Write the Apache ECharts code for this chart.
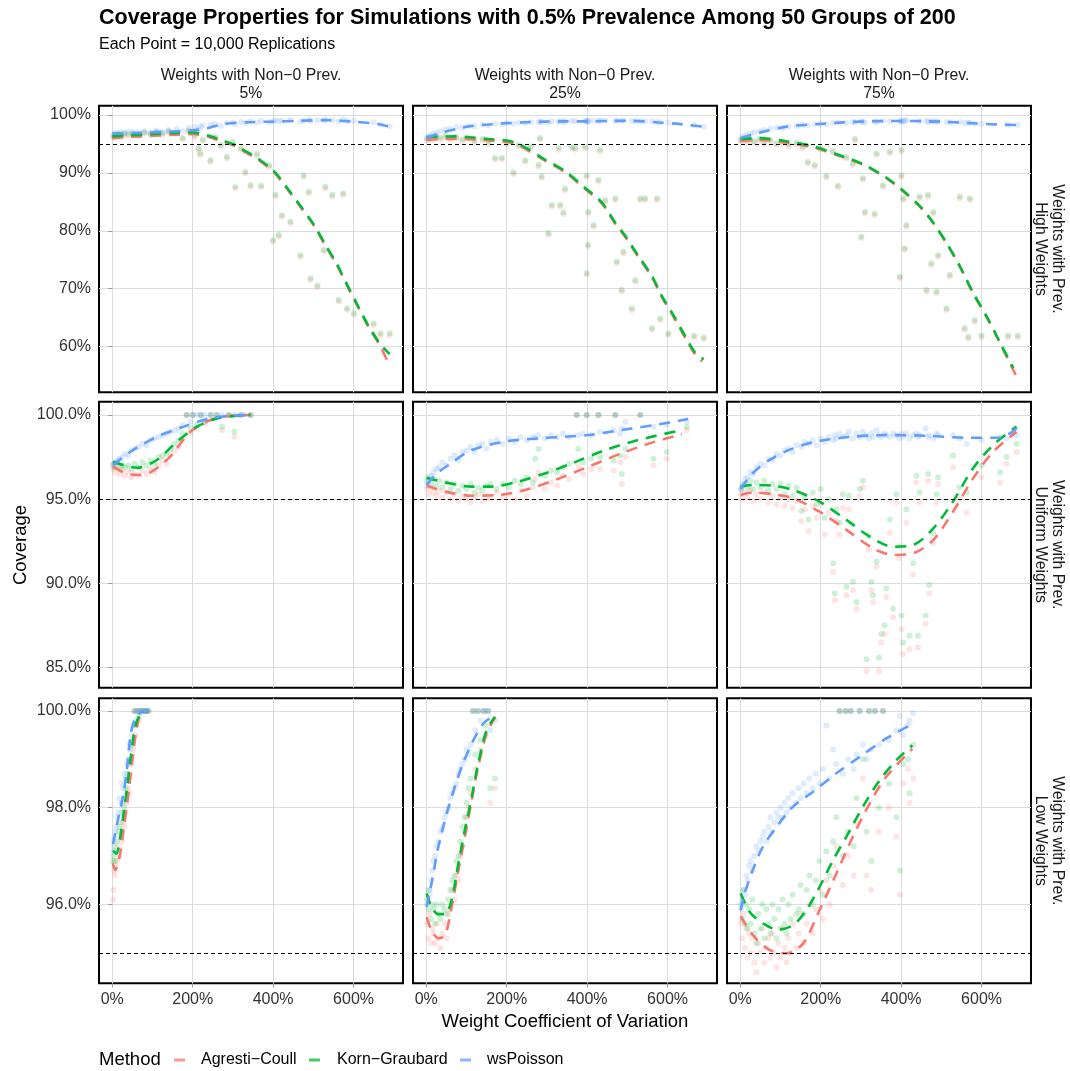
<!DOCTYPE html>
<html>
<head>
<meta charset="utf-8">
<script src="https://cdn.jsdelivr.net/npm/echarts@6/dist/echarts.min.js"></script>
<style>
  html, body { margin: 0; padding: 0; background: #fff; }
  #chart { width: 1070px; height: 1071px; }
</style>
</head>
<body>
<div id="chart"></div>
<script>
const methods = ['Agresti−Coull', 'Korn−Graubard', 'wsPoisson'];
const colLabels = ['5%', '25%', '75%'];
const rowLabels = ['High Weights', 'Uniform Weights', 'Low Weights'];
const xTicks = [0, 200, 400, 600];
const yTicks = [[60, 70, 80, 90, 100], [85, 90, 95, 100], [96, 98, 100]];
const target = 95;

// simulated scenarios, panel order: row by row (high, uniform, low) x (5%, 25%, 75%)
// one weight CV per scenario, one coverage per method
const pointCv = [
  [3,8,15,22,30,40,52,65,80,95,110,125,140,160,175,190,205,215,219,225,244,255,270,285,300,306,320,331,344,360,370,390,400,406,414,422,443,468,476,489,493,510,526,530,547,563,574,584,601,650,667,690],
  [2,8,15,25,35,48,60,75,90,105,120,140,155,171,188,200,217,230,246,260,279,283,287,304,312,329,333,341,345,362,370,395,399,402,403,399,416,428,432,445,470,474,486,490,511,520,532,544,561,574,582,602,666,690],
  [2,8,15,25,35,48,60,75,90,105,120,140,155,168,185,200,214,230,243,264,280,285,301,305,310,334,339,355,372,397,401,401,405,409,413,446,463,467,475,480,488,492,513,521,546,558,567,571,583,600,666,690],
  [2,6,12,18,25,32,40,48,56,65,75,85,95,105,115,125,135,145,155,165,175,185,195,200,210,220,230,245,260,273,290,304,320,344],
  [2,6,12,18,25,32,40,50,60,70,80,90,100,110,120,130,140,150,160,175,190,205,220,235,250,265,271,279,295,310,325,340,355,374,378,390,399,410,428,432,466,470,482,486,495,532,565,598,648],
  [2,6,12,18,25,32,40,50,60,70,80,90,100,110,120,130,140,152,160,170,180,190,200,210,220,231,235,239,247,255,264,270,280,289,297,305,314,320,326,330,339,345,351,359,363,372,380,388,395,401,405,413,421,430,438,442,446,461,467,470,480,488,492,529,545,563,600,646,662,687],
  [2,3,5,7,9,12,15,18,21,24,27,30,33,36,39,42,45,48,52,55,58,62,66,70,75,80,85,90],
  [2,5,8,12,15,18,22,26,30,35,40,45,50,55,60,65,70,75,80,85,90,95,100,105,110,116,122,128,135,142,148,154,159,171],
  [2,5,8,12,15,18,22,26,30,35,40,45,50,55,60,65,70,75,80,85,90,95,100,105,110,115,120,125,130,139,145,150,158,165,172,180,188,197,205,214,222,231,239,247,255,262,268,275,282,289,297,305,314,320,326,335,345,355,370,388,397,405,417,421,430]
];
const pointAc = [
  [96.0,96.3,96.5,96.2,96.6,96.4,96.7,96.3,96.8,96.5,96.9,96.6,97.0,96.7,95.8,97.1,96.2,94.0,93.1,95.5,91.9,96.0,94.5,92.5,95.0,87.3,94.0,89.9,87.6,93.0,87.5,91.0,78.1,85.9,79.0,82.4,81.3,75.5,89.3,86.5,71.5,70.3,76.4,87.3,85.9,67.8,86.2,66.3,65.5,63.7,62.0,62.0],
  [95.6,95.9,95.7,96.0,95.8,96.1,95.7,95.9,95.5,95.8,95.3,95.6,95.0,92.3,92.3,94.9,89.8,94.5,91.9,94.3,91.1,95.8,89.1,79.3,84.2,94.0,84.2,82.9,87.0,94.2,94.0,94.2,89.3,77.3,83.0,72.4,80.7,88.5,93.7,85.0,85.3,74.4,69.5,76.1,66.3,71.2,85.3,85.3,62.9,85.3,64.6,62.0,61.6,61.3],
  [95.4,95.6,95.3,95.5,95.2,95.6,95.0,95.4,94.8,95.1,94.6,94.9,94.2,91.6,91.1,94.0,89.2,93.5,87.5,92.5,91.4,95.6,78.7,88.8,83.0,82.7,93.1,87.6,93.4,71.8,93.7,89.3,85.3,76.7,80.7,85.6,69.5,85.9,74.1,83.0,69.2,75.5,66.3,72.1,85.6,62.9,61.4,85.3,64.3,61.6,61.6,61.6],
  [96.8,96.6,96.9,96.5,96.7,96.4,96.6,96.3,96.5,96.4,96.7,96.5,96.8,96.6,97.0,97.3,97.1,97.6,97.9,98.1,98.6,100,98.9,100,99.2,100,99.5,100,100,99.1,100,98.7,100,100],
  [95.6,95.3,95.7,95.4,95.2,95.5,95.1,95.4,95.0,95.3,94.9,95.2,95.0,94.8,95.1,95.3,94.9,95.2,95.0,95.4,95.1,95.3,95.0,95.5,95.2,95.7,96.2,96.6,95.6,96.0,95.8,96.4,96.2,100,97.0,96.5,100,96.8,100,96.8,96.7,100,97.2,95.9,97.5,100,97.0,97.4,99.1],
  [95.3,95.0,95.4,95.1,95.5,94.9,95.3,95.0,95.4,94.8,95.2,94.7,95.1,94.6,95.0,94.5,94.9,93.7,94.4,93.1,94.6,93.9,94.8,92.9,94.2,90.7,89.0,93.7,92.9,94.5,89.3,94.4,89.6,88.5,95.2,95.7,84.8,92.0,89.6,88.9,91.0,84.8,86.5,87.0,89.2,93.0,88.0,94.8,91.5,87.3,85.8,93.6,86.1,90.5,96.0,86.2,94.8,87.6,96.1,89.4,92.4,94.8,95.9,96.9,95.0,94.2,96.3,96.0,97.1,97.8],
  [96.1,96.3,96.7,96.6,96.8,96.9,97.2,97.0,97.4,97.3,97.7,97.6,97.9,98.1,98.4,98.3,98.7,98.9,99.2,100,99.5,100,99.8,100,100,100,100,100],
  [95.6,95.3,95.8,95.2,95.5,95.4,95.2,95.6,95.3,95.1,95.4,95.6,95.3,95.8,95.9,96.3,96.1,96.6,96.5,97.0,97.2,97.5,97.8,98.0,98.3,100,98.8,100,99.2,100,99.5,100,98.1,98.4],
  [95.6,95.3,95.8,95.1,95.5,94.9,95.4,95.0,95.3,94.8,94.6,95.2,95.0,95.5,94.8,95.1,95.3,94.9,95.4,95.0,94.7,95.2,94.9,95.5,95.1,94.8,95.3,95.0,95.6,95.1,95.4,95.8,95.2,95.6,96.0,95.4,95.9,96.3,95.7,96.5,96.0,96.8,97.2,100,96.4,100,97.0,100,96.6,97.7,100,98.6,96.6,100,96.3,100,97.5,100,98.0,97.4,96.2,98.5,98.8,98.1,98.6]
];
const pointKg = [
  [96.3,96.6,96.8,96.5,96.9,96.7,97.0,96.6,97.0,96.8,97.1,96.9,97.2,96.9,96.0,97.3,96.5,94.3,93.4,95.8,92.2,96.3,94.8,92.8,95.4,87.6,94.3,90.2,87.9,93.3,87.8,91.3,78.4,86.2,79.3,82.7,81.6,75.8,89.6,86.8,71.8,70.6,76.7,87.6,86.2,68.1,86.5,66.6,65.8,64.0,62.3,62.3],
  [95.9,96.2,96.0,96.3,96.1,96.4,96.0,96.2,95.8,96.1,95.6,95.9,95.4,92.6,92.6,95.2,90.1,94.8,92.2,94.6,91.4,96.0,89.4,79.6,84.5,94.3,84.5,83.2,87.3,94.5,94.3,94.5,89.6,77.6,83.3,72.7,81.0,88.8,94.0,85.3,85.6,74.7,69.8,76.4,66.6,71.5,85.6,85.6,63.2,85.6,64.9,62.3,61.9,61.6],
  [95.7,95.9,95.6,95.8,95.5,95.9,95.3,95.7,95.1,95.4,94.9,95.2,94.5,91.9,91.4,94.3,89.5,93.8,87.8,92.8,91.7,95.9,79.0,89.1,83.3,83.0,93.4,87.9,93.7,72.1,94.0,89.6,85.6,77.0,81.0,85.9,69.8,86.2,74.4,83.3,69.5,75.8,66.6,72.4,85.9,63.2,61.7,85.6,64.6,61.9,61.9,61.9],
  [97.1,96.9,97.2,96.8,97.0,96.9,97.0,96.8,97.1,96.9,97.2,97.0,97.3,97.1,97.5,97.6,97.7,98.0,98.3,98.5,98.9,100,99.2,100,99.4,100,99.6,100,100,99.3,100,99.0,100,100],
  [96.1,96.3,95.9,96.2,95.8,96.1,95.7,96.0,95.6,95.9,95.5,95.8,95.6,95.9,95.4,95.7,95.5,95.8,95.9,95.6,95.9,95.7,96.1,95.9,96.3,96.0,97.4,98.0,96.4,96.7,96.6,96.9,97.1,100,98.0,97.2,100,97.4,100,97.5,97.3,100,97.6,96.5,98.0,100,97.4,97.8,99.3],
  [95.6,95.8,95.9,95.7,96.1,95.6,96.0,95.7,96.1,95.5,95.9,95.6,95.9,95.3,95.8,95.2,95.7,94.3,95.1,93.8,95.4,94.7,95.6,93.9,95.0,91.2,89.4,94.4,93.6,95.3,89.8,95.2,90.1,88.9,95.6,96.1,85.5,92.8,90.1,89.3,91.3,85.6,87.0,87.5,89.7,93.8,88.5,95.3,92.2,88.1,86.5,94.4,86.9,91.2,96.4,86.9,95.4,88.1,96.5,89.9,93.0,95.3,96.3,97.6,95.7,95.4,97.0,96.6,97.5,98.3],
  [96.9,97.0,97.2,96.9,97.1,97.3,97.5,97.6,97.7,97.9,98.1,98.0,98.4,98.3,98.7,98.9,99.0,99.3,99.4,100,99.7,100,99.9,100,100,100,100,100],
  [96.1,95.9,96.3,95.7,96.0,95.9,95.6,96.0,95.8,95.7,96.0,95.9,95.8,96.1,96.3,96.5,96.6,96.9,97.0,97.3,97.6,97.8,98.1,98.4,98.6,100,99.1,100,99.4,100,99.7,100,98.4,98.6],
  [96.0,95.7,96.3,95.6,96.0,95.5,95.9,95.6,96.1,95.4,95.2,95.8,95.5,96.0,95.3,95.9,95.6,95.4,96.0,95.7,95.3,95.9,95.5,96.1,95.6,95.4,96.0,95.7,96.2,95.8,95.9,96.4,95.8,96.3,96.6,96.0,96.5,96.9,96.2,97.1,96.6,97.3,97.8,100,97.0,100,97.5,100,97.2,98.2,100,99.0,97.5,100,96.9,100,98.0,100,98.5,97.8,96.7,98.9,99.0,98.3,99.3]
];
const pointWs = [
  [96.7,96.9,96.6,97.0,96.8,97.1,96.7,97.0,97.2,96.9,97.3,97.0,97.4,97.6,97.2,97.8,97.9,97.5,98.0,98.2,98.3,98.5,98.1,98.6,98.7,98.4,98.8,98.6,98.9,98.7,99.0,98.8,98.9,99.1,98.9,99.0,99.1,98.9,99.0,99.2,99.0,99.1,99.0,99.2,99.1,98.9,99.2,98.9,99.0,98.8,98.4,98.0],
  [96.1,96.4,96.7,96.9,97.2,97.5,97.6,97.9,97.8,98.1,98.0,98.3,98.2,98.5,98.4,98.6,98.5,98.7,98.6,98.8,98.7,98.9,98.8,98.7,98.9,98.8,99.0,98.8,98.9,99.0,98.9,99.0,98.8,99.0,98.9,98.9,99.0,98.9,99.1,99.0,98.9,99.1,99.0,99.0,99.0,98.9,99.0,98.9,98.9,98.8,98.7,98.7,98.3,98.0],
  [96.0,96.3,96.6,96.8,97.0,97.2,97.4,97.6,97.8,97.7,98.0,98.1,98.3,98.2,98.4,98.5,98.4,98.6,98.7,98.6,98.8,98.7,98.9,98.8,98.7,98.9,98.8,99.0,98.9,98.9,99.0,98.8,99.0,98.9,99.1,98.9,99.0,98.8,98.9,98.9,98.8,98.9,98.8,98.7,98.8,98.6,98.7,98.6,98.5,98.5,98.3,98.3],
  [97.0,97.2,97.3,97.4,97.5,97.7,97.6,97.9,98.0,98.1,98.3,98.2,98.5,98.6,98.7,98.8,98.9,99.0,99.1,99.2,99.4,100,99.6,100,100,100,100,100,100,100,100,100,100,100],
  [95.8,96.1,96.4,96.6,96.8,96.9,97.2,97.0,97.4,97.6,97.3,97.8,97.9,98.1,97.8,98.2,98.3,98.0,98.4,98.5,98.3,98.6,98.4,98.7,98.5,98.7,98.6,98.8,98.6,98.8,98.7,98.9,98.7,100,98.8,98.9,100,98.8,100,99.0,99.1,100,98.9,99.2,99.6,100,99.3,99.4,99.6],
  [95.6,95.9,96.2,96.3,96.6,96.5,96.9,97.1,97.0,97.4,97.3,97.7,97.6,97.9,98.0,97.8,98.2,98.1,98.4,98.3,98.5,98.2,98.6,98.4,98.7,98.5,98.8,98.6,98.9,98.7,98.8,99.0,98.6,98.9,98.7,99.0,98.8,98.6,98.9,98.7,99.1,98.8,98.7,98.9,98.8,98.7,98.9,98.8,98.6,98.9,98.7,98.9,98.6,98.8,98.9,98.7,98.8,99.2,98.7,98.8,98.6,98.9,98.8,98.8,98.6,98.3,98.5,98.7,98.6,98.8],
  [97.1,97.3,97.4,97.5,97.6,97.8,97.9,98.2,98.1,98.5,98.4,98.7,98.6,98.9,99.0,99.3,99.2,99.5,99.7,100,99.8,100,100,100,100,100,100,100],
  [96.0,96.3,96.2,96.5,96.7,96.9,97.0,97.2,97.3,97.5,97.6,97.8,97.9,98.0,98.2,98.3,98.4,98.5,98.7,98.8,98.9,99.0,99.2,99.1,99.3,100,99.6,100,99.8,100,100,100,99.6,99.8],
  [95.9,96.1,96.3,96.2,96.6,96.5,96.8,96.9,96.7,97.0,97.2,97.1,97.3,97.4,97.5,97.3,97.6,97.8,97.5,97.7,97.9,97.8,98.0,97.8,98.1,97.9,98.2,98.0,98.3,98.1,98.4,98.2,98.5,98.3,98.6,98.4,98.7,98.5,98.8,99.7,98.6,99.2,98.9,100,98.7,100,99.0,100,98.8,99.1,100,99.3,99.0,100,99.2,100,99.3,100,99.4,99.6,99.9,99.5,99.7,99.8,99.95]
];

// smoothed fits
const acCurveCv = [
  [0,40,100,160,200,236,270,302,330,360,402,435,468,501,530,559,584,609,638,667,690],
  [1,71,155,221,295,345,395,437,470,495,528,561,586,611,644,669,686],
  [1,48,115,181,239,305,363,401,446,480,513,546,579,612,646,670,687],
  [2,28,61,95,144,194,244,294,344],
  [1,47,113,179,246,320,403,486,569,636],
  [1,31,81,131,197,264,330,380,430,480,529,579,629,687],
  [1,7,18,28,38,49,60,70,90],
  [1,13,30,47,63,80,96,113,129,150,171],
  [1,31,73,115,156,197,239,280,322,363,428]
];
const acCurve = [
  [96.0,96.2,96.4,96.6,96.7,96.3,95.5,94.7,93.6,92.4,90.1,87.2,84.1,80.9,77.4,74.0,70.5,67.1,63.3,60.0,56.6],
  [95.7,95.9,95.6,95.0,92.1,90.1,87.2,84.7,81.2,78.9,75.4,72.0,68.5,65.6,61.5,58.6,57.4],
  [95.56,95.7,95.2,94.4,93.1,91.4,89.1,87.05,84.2,81.3,77.8,73.8,69.2,65.2,60.6,57.2,54.8],
  [96.93,96.6,96.44,96.6,97.53,99.0,99.7,99.96,100],
  [95.8,95.45,95.21,95.25,95.55,96.14,96.93,97.73,98.42,98.85],
  [95.25,95.4,95.3,95.06,94.26,93.18,92.09,91.69,91.79,92.58,94.26,96.24,97.82,99.0],
  [96.85,96.71,96.98,97.54,98.15,98.91,99.6,99.91,100],
  [95.74,95.47,95.3,95.37,95.95,96.71,97.4,98.15,98.84,99.53,99.86],
  [95.76,95.37,95.06,94.99,95.19,95.88,96.64,97.4,98.09,98.64,99.22]
];
const kgCurveCv = [
  [0,40,100,160,200,236,270,302,330,360,402,435,468,501,530,559,584,609,638,667,690],
  [1,71,155,221,295,345,395,437,470,495,528,561,586,611,644,669,690],
  [1,48,115,181,239,305,363,401,446,480,513,546,579,612,646,679],
  [2,28,61,111,161,211,261,310,344],
  [1,47,113,163,221,296,362,445,528,636],
  [1,31,81,131,197,264,322,380,430,480,529,579,629,687],
  [2,10,16,27,37,46,57,70,90],
  [1,13,30,47,63,80,96,113,129,150,171],
  [1,23,56,94,131,164,197,231,264,305,347,388,428]
];
const kgCurve = [
  [96.3,96.5,96.7,96.9,97.0,96.5,95.7,94.9,93.8,92.6,90.3,87.4,84.3,81.1,77.6,74.2,70.7,67.3,63.5,60.4,58.7],
  [96.2,96.3,95.85,95.25,92.3,90.3,87.4,84.85,81.4,79.1,75.6,72.2,68.7,65.85,61.8,58.9,57.8],
  [95.85,96.0,95.45,94.6,93.25,91.5,89.2,87.15,84.3,81.4,77.9,73.9,69.3,65.3,60.7,56.3],
  [97.23,97.03,96.87,97.33,98.42,99.31,99.8,99.96,100],
  [96.28,96.0,95.75,95.75,96.0,96.54,97.13,97.92,98.52,99.11],
  [95.75,95.85,95.8,95.55,94.86,93.77,92.78,92.18,92.28,93.27,94.86,96.84,98.22,99.31],
  [97.11,97.05,97.19,97.81,98.43,99.05,99.67,99.93,100],
  [96.23,95.95,95.8,95.8,96.09,96.85,97.54,98.22,98.91,99.6,99.88],
  [96.23,95.85,95.61,95.48,95.57,95.88,96.36,96.92,97.4,98.02,98.57,98.98,99.29]
];
const wsCurveCv = [
  [0,60,128,194,236,277,340,401,465,526,601,659,690],
  [1,22,47,80,113,155,196,250,295,350,402,450,495,540,578,620,652,690],
  [1,48,115,197,297,401,496,579,640,687],
  [2,45,111,178,236,294,344],
  [1,22,55,113,196,279,345,403,486,569,651],
  [1,31,73,131,197,280,363,463,563,646,687],
  [2,12,28,38,46,57,74,90],
  [1,13,30,51,71,91,117,142,169],
  [1,11,31,56,90,131,181,239,297,363,430]
];
const wsCurve = [
  [96.8,96.9,97.1,97.3,97.7,98.45,98.75,98.85,99.0,99.1,98.85,98.45,98.0],
  [96.0,96.6,97.1,97.65,98.1,98.35,98.56,98.75,98.85,98.9,98.9,98.95,99.0,98.9,98.7,98.5,98.27,97.98],
  [96.0,96.95,97.98,98.45,98.85,98.96,98.85,98.56,98.35,98.27],
  [97.03,97.82,98.71,99.31,99.76,99.96,100],
  [95.85,96.44,97.03,97.92,98.42,98.61,98.71,98.81,99.11,99.41,99.76],
  [95.61,96.54,97.33,98.02,98.46,98.71,98.81,98.77,98.65,98.65,99.2],
  [97.25,97.67,98.29,98.91,99.53,99.84,99.98,100],
  [95.95,96.43,97.19,97.88,98.43,98.91,99.39,99.74,99.91],
  [95.88,96.23,96.71,97.19,97.6,98.02,98.33,98.71,99.05,99.43,99.74]
];

const colors = ['#F8766D', '#00BA38', '#619CFF'];
const font = 'Liberation Sans, Arial, sans-serif';
const panelLeft = [99, 413, 727];
const panelTop = [105.7, 401.7, 698.3];
const panelHeight = [286.6, 286, 285];
const panelWidth = 304;
const xRange = [-33, 723];
const yRange = [[52.1, 101.6], [83.81, 100.79], [94.37, 100.26]];

const pointSets = [pointAc, pointKg, pointWs];
const curveXs = [acCurveCv, kgCurveCv, wsCurveCv];
const curveYs = [acCurve, kgCurve, wsCurve];

function zip(xs, ys) {
  const n = Math.min(xs.length, ys.length);
  const out = [];
  for (let i = 0; i < n; i++) out.push([xs[i], ys[i]]);
  return out;
}

const grids = [], xAxes = [], yAxes = [], series = [];
for (let r = 0; r < 3; r++) {
  for (let c = 0; c < 3; c++) {
    const p = r * 3 + c;
    grids.push({
      left: panelLeft[c], top: panelTop[r], width: panelWidth, height: panelHeight[r],
      show: true, borderColor: '#000', borderWidth: 2, backgroundColor: '#fff'
    });
    xAxes.push({
      type: 'value', gridIndex: p, min: xRange[0], max: xRange[1],
      axisLine: { show: false },
      axisTick: { show: r === 2, customValues: xTicks, length: 4, lineStyle: { color: '#9a9a9a' } },
      axisLabel: {
        show: r === 2, customValues: xTicks, margin: 8, fontSize: 16, color: '#333',
        fontFamily: font, formatter: v => v + '%'
      },
      splitLine: { show: true, lineStyle: { color: '#dcdcdc', width: 1 } }
    });
    yAxes.push({
      type: 'value', gridIndex: p, min: yRange[r][0], max: yRange[r][1],
      axisLine: { show: false },
      axisTick: { show: c === 0, customValues: yTicks[r], length: 4, lineStyle: { color: '#9a9a9a' } },
      axisLabel: {
        show: c === 0, customValues: yTicks[r], margin: 8, fontSize: 16, color: '#333',
        fontFamily: font, formatter: v => r === 0 ? v + '%' : v.toFixed(1) + '%'
      },
      splitLine: { show: true, lineStyle: { color: '#dcdcdc', width: 1 } }
    });
    for (let m = 0; m < 3; m++) {
      const s = {
        name: methods[m], type: 'scatter', xAxisIndex: p, yAxisIndex: p,
        data: zip(pointCv[p], pointSets[m][p]),
        symbolSize: 6, z: 2,
        itemStyle: { color: colors[m], opacity: 0.2 },
        emphasis: { disabled: true }
      };
      if (m === 0) {
        s.markLine = {
          silent: true, symbol: 'none', label: { show: false },
          lineStyle: { color: '#000', type: [4, 3], width: 1 },
          data: [{ yAxis: target }]
        };
      }
      series.push(s);
    }
    for (let m = 0; m < 3; m++) {
      series.push({
        name: methods[m], type: 'line', xAxisIndex: p, yAxisIndex: p,
        data: zip(curveXs[m][p], curveYs[m][p]),
        showSymbol: false, symbol: 'none', smooth: 0.3, z: 3,
        lineStyle: { color: colors[m], width: 2.6, type: [11, 8] },
        emphasis: { disabled: true }
      });
    }
  }
}

const graphics = [
  { type: 'text', x: 99, y: 7, style: { text: 'Coverage Properties for Simulations with 0.5% Prevalence Among 50 Groups of 200', font: 'bold 21.5px ' + font, fill: '#000' } },
  { type: 'text', x: 99, y: 37, style: { text: 'Each Point = 10,000 Replications', font: '16px ' + font, fill: '#000' } },
  { type: 'text', x: 21, y: 545, rotation: Math.PI / 2, style: { text: 'Coverage', font: '18.5px ' + font, fill: '#000', textAlign: 'center', textVerticalAlign: 'middle' } },
  { type: 'text', x: 565, y: 1022, style: { text: 'Weight Coefficient of Variation', font: '18.5px ' + font, fill: '#000', textAlign: 'center', textVerticalAlign: 'middle' } },
  { type: 'text', x: 99, y: 1060, style: { text: 'Method', font: '18.5px ' + font, fill: '#000', textVerticalAlign: 'middle' } }
];
for (let c = 0; c < 3; c++) {
  graphics.push({
    type: 'text', x: panelLeft[c] + panelWidth / 2, y: 85,
    style: { text: 'Weights with Non−0 Prev.\n' + colLabels[c], font: '15.8px ' + font, lineHeight: 18, fill: '#1a1a1a', textAlign: 'center', textVerticalAlign: 'middle' }
  });
}
for (let r = 0; r < 3; r++) {
  graphics.push({
    type: 'text', x: 1049, y: panelTop[r] + panelHeight[r] / 2, rotation: -Math.PI / 2,
    style: { text: 'Weights with Prev.\n' + rowLabels[r], font: '15.8px ' + font, lineHeight: 17, fill: '#1a1a1a', textAlign: 'center', textVerticalAlign: 'middle' }
  });
}
const legendKeyX = [174, 309, 460];
const legendTextX = [201, 337, 487];
for (let m = 0; m < 3; m++) {
  graphics.push({ type: 'line', shape: { x1: legendKeyX[m], y1: 1060, x2: legendKeyX[m] + 11, y2: 1060 }, style: { stroke: colors[m], lineWidth: 3, opacity: 0.75 } });
  graphics.push({ type: 'text', x: legendTextX[m], y: 1060, style: { text: methods[m], font: '16px ' + font, fill: '#000', textVerticalAlign: 'middle' } });
}

const chart = echarts.init(document.getElementById('chart'), null, { renderer: 'canvas' });
chart.setOption({
  animation: false,
  backgroundColor: '#fff',
  grid: grids,
  xAxis: xAxes,
  yAxis: yAxes,
  series: series,
  graphic: graphics
});
</script>
</body>
</html>
